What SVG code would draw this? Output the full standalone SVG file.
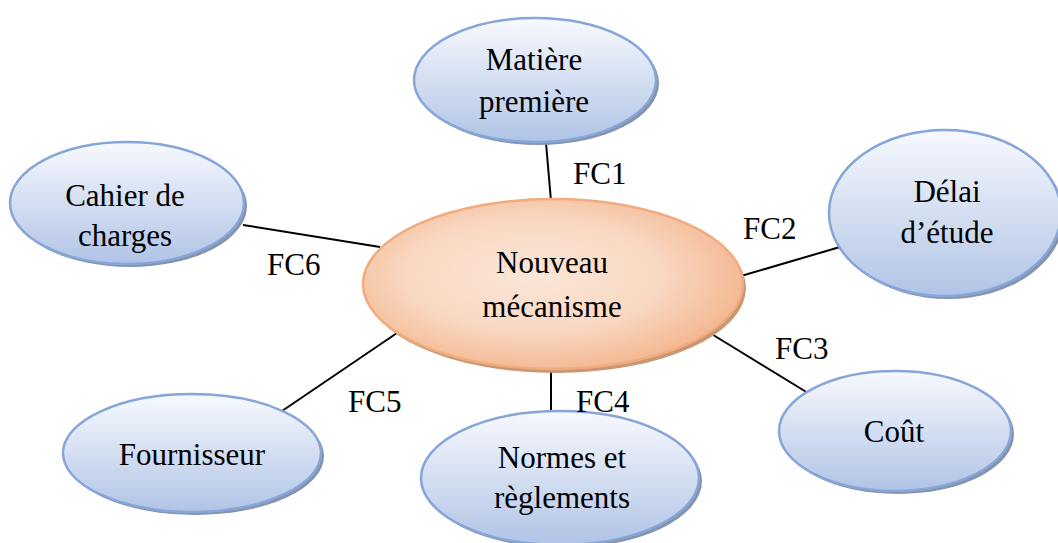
<svg xmlns="http://www.w3.org/2000/svg" width="1058" height="543" viewBox="0 0 1058 543">
<defs>
<linearGradient id="gBlue" x1="0" y1="0" x2="0" y2="1">
<stop offset="0" stop-color="#f7f9fe"/>
<stop offset="1" stop-color="#b1c4e6"/>
</linearGradient>
<radialGradient id="gOrange" cx="0.45" cy="0.45" r="0.6">
<stop offset="0" stop-color="#fbe6d8"/>
<stop offset="0.55" stop-color="#f9d8c2"/>
<stop offset="1" stop-color="#f3b48c"/>
</radialGradient>
</defs>
<style>
.blue{fill:url(#gBlue);stroke:#86a5d8;stroke-width:2.5}
.bsh{fill:#8593ab}
.orange{fill:url(#gOrange);stroke:#f2ab7d;stroke-width:2.5}
.osh{fill:#c89774}
.t{font-family:"Liberation Serif","Times New Roman",serif;font-size:31px;fill:#000;text-anchor:middle}
.lbl{font-family:"Liberation Serif","Times New Roman",serif;font-size:31px;fill:#000}
.c{stroke:#000;stroke-width:2;fill:none}
</style>
<rect width="1058" height="543" fill="#fff"/>
<g id="connectors">
<line class="c" x1="546" y1="143" x2="551" y2="201"/>
<line class="c" x1="243" y1="225" x2="380" y2="247"/>
<line class="c" x1="741" y1="276" x2="840" y2="247"/>
<line class="c" x1="710" y1="333" x2="808" y2="393"/>
<line class="c" x1="551" y1="370" x2="551" y2="411"/>
<line class="c" x1="397" y1="333" x2="282" y2="411"/>
</g>
<g id="node-matiere">
<ellipse class="bsh" cx="538" cy="83" rx="121" ry="62"/>
<ellipse class="blue" cx="535" cy="80" rx="121" ry="62"/>
<text class="t" x="534" y="70">Matière</text>
<text class="t" x="534" y="112">première</text>
</g>
<g id="node-cahier">
<ellipse class="bsh" cx="130" cy="206" rx="117" ry="61"/>
<ellipse class="blue" cx="127" cy="203" rx="117" ry="61"/>
<text class="t" x="125" y="206">Cahier de</text>
<text class="t" x="125" y="246">charges</text>
</g>
<g id="node-delai">
<ellipse class="bsh" cx="948" cy="216" rx="116" ry="83"/>
<ellipse class="blue" cx="945" cy="213" rx="116" ry="83"/>
<text class="t" x="947" y="202">Délai</text>
<text class="t" x="947" y="243">d’étude</text>
</g>
<g id="node-mecanisme">
<ellipse class="osh" cx="556" cy="288" rx="190" ry="85"/>
<ellipse class="orange" cx="553" cy="284" rx="190" ry="85"/>
<text class="t" x="552" y="273">Nouveau</text>
<text class="t" x="552" y="317">mécanisme</text>
</g>
<g id="node-cout">
<ellipse class="bsh" cx="898" cy="434" rx="116" ry="60"/>
<ellipse class="blue" cx="895" cy="431" rx="116" ry="60"/>
<text class="t" x="894" y="442">Coût</text>
</g>
<g id="node-normes">
<ellipse class="bsh" cx="563" cy="481" rx="139" ry="67"/>
<ellipse class="blue" cx="560" cy="478" rx="139" ry="67"/>
<text class="t" x="562" y="468">Normes et</text>
<text class="t" x="562" y="508">règlements</text>
</g>
<g id="node-fournisseur">
<ellipse class="bsh" cx="195" cy="456" rx="129" ry="59"/>
<ellipse class="blue" cx="192" cy="453" rx="129" ry="59"/>
<text class="t" x="192" y="465">Fournisseur</text>
</g>
<g id="labels">
<text class="lbl" x="573" y="184">FC1</text>
<text class="lbl" x="743" y="239">FC2</text>
<text class="lbl" x="775" y="359">FC3</text>
<text class="lbl" x="576" y="412">FC4</text>
<text class="lbl" x="348" y="412">FC5</text>
<text class="lbl" x="267" y="275">FC6</text>
</g>
</svg>
